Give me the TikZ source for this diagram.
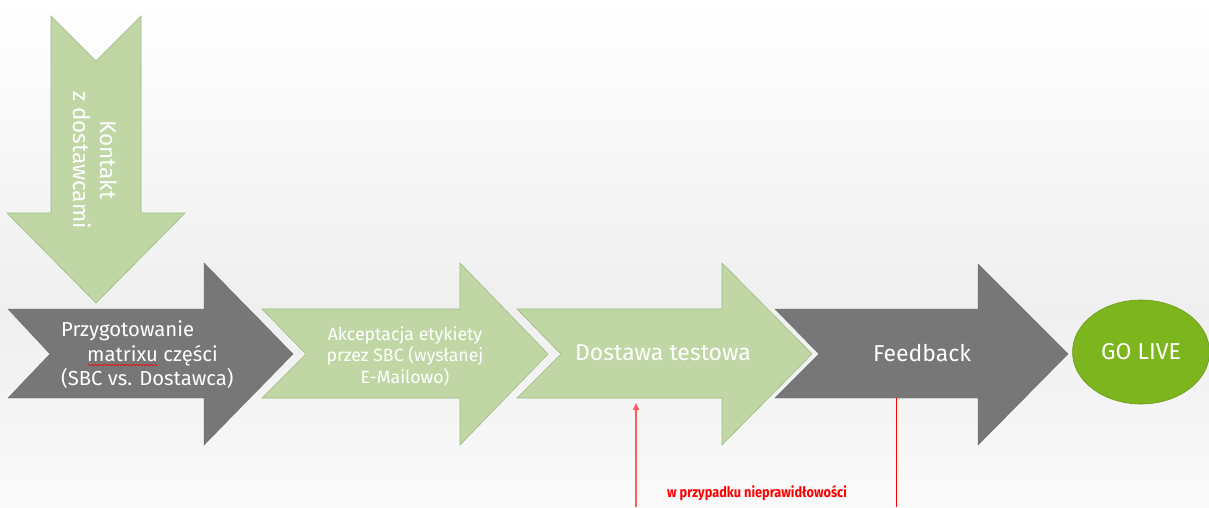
\documentclass[tikz,border=0pt]{standalone}
\usepackage{fontspec}
\setmainfont{Fira Sans}
\usetikzlibrary{shapes.geometric,arrows.meta,decorations.pathmorphing}
\definecolor{lgreen}{HTML}{C0D7A5}
\definecolor{lgreenb}{HTML}{9DBB83}
\definecolor{dgray}{HTML}{777777}
\definecolor{live}{HTML}{7DB51E}
\definecolor{liveb}{HTML}{6B9B1A}
\definecolor{bgmid}{HTML}{EFEFEF}
\definecolor{redl}{HTML}{FF5C5C}
\begin{document}
\begin{tikzpicture}[x=1pt,y=-1pt,
  greenarrow/.style={fill=lgreen,draw=lgreenb,line width=0.6pt},
  grayarrow/.style={fill=dgray,draw=dgray!90!black,line width=0.4pt},
  lbl/.style={text=white,inner sep=0pt},
  big/.style={font=\fontsize{23}{27}\selectfont},
  kont/.style={font=\fontsize{22.5}{27}\selectfont},
  mid/.style={font=\fontsize{20.3}{24.5}\selectfont},
  small/.style={font=\fontsize{17.7}{21.5}\selectfont}]
\useasboundingbox (0,0) rectangle (1209,507);
% background
\shade[top color=white,bottom color=bgmid] (0,0) rectangle (1209,310);
\shade[top color=bgmid,bottom color=white!70!bgmid] (0,310) rectangle (1209,507);
% down arrow
\path[greenarrow] (51,16) -- (96,61) -- (141,16) -- (141,213) -- (185,213) -- (96,303) -- (7,213) -- (51,213) -- cycle;
% process arrows
\path[grayarrow] (8,309) -- (204,309) -- (204,263) -- (293,354) -- (204,445) -- (204,398) -- (8,398) -- (50,354) -- cycle;
\path[greenarrow] (262,309) -- (460,309) -- (460,263) -- (548,354) -- (460,445) -- (460,398) -- (262,398) -- (306,354) -- cycle;
\path[greenarrow] (517,309) -- (722,309) -- (722,263) -- (812,354) -- (722,445) -- (722,398) -- (517,398) -- (561,354) -- cycle;
\path[grayarrow] (775,309) -- (978,309) -- (978,264) -- (1068,354) -- (978,445) -- (978,398) -- (775,398) -- (819,354) -- cycle;
% labels
\node[lbl,kont,rotate=-90,align=center] (contact) at (95,160) {Kontakt\\z dostawcami};
\node[lbl,mid,align=left,anchor=west] (prep) at (61,355) {Przygotowanie\\\hspace*{26pt}matrixu części\\(SBC vs. Dostawca)};
\draw[red,line width=0.5pt,decorate,decoration={snake,segment length=3pt,amplitude=0.8pt}] (88,365) -- (158,365);
\node[lbl,small,align=center] (accept) at (405,356) {Akceptacja etykiety\\przez SBC (wysłanej\\E-Mailowo)};
\node[lbl,big] (test) at (663,353) {Dostawa testowa};
\node[lbl,big] (feedback) at (922,353) {Feedback};
\node[ellipse,fill=live,draw=liveb,line width=0.6pt,minimum width=137pt,minimum height=104pt,inner sep=0pt,text=white,big] (golive) at (1141,352) {GO LIVE};
% red markers
\coordinate (r1) at (636,507);
\coordinate (rt) at (636,403);
\coordinate (f1) at (896,398);
\coordinate (f2) at (896,507);
\draw[redl,line width=1.4pt,-{Triangle[length=7pt,width=6pt]}] (r1) -- (rt);
\draw[red,line width=0.8pt] (f1) -- (f2);
\node[text=red,inner sep=0pt,font=\bfseries\fontsize{14.5}{16}\selectfont] (note) at (757,493) {\scalebox{0.88}[1]{w przypadku nieprawidłowości}};
\end{tikzpicture}
\end{document}
